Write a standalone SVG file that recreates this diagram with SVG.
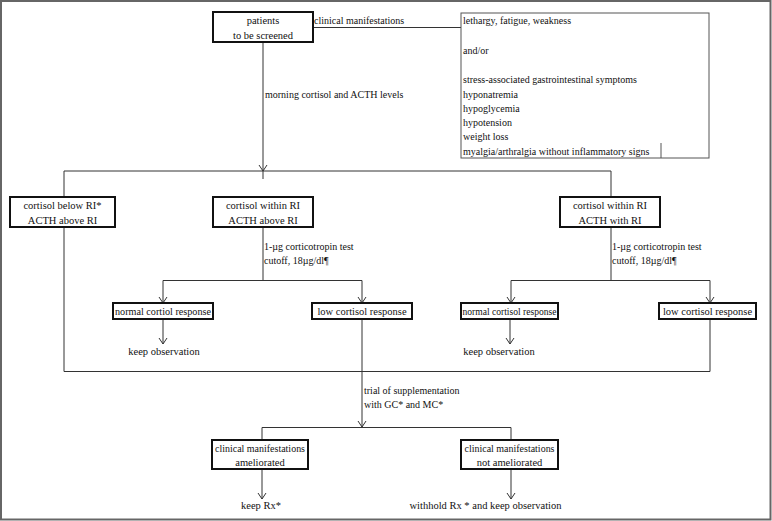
<svg xmlns="http://www.w3.org/2000/svg" width="772" height="521" viewBox="0 0 772 521">
<style>
text{font-family:"Liberation Serif","Times New Roman",serif;fill:#111}
.n{font-size:10.5px;text-anchor:middle}
.l{font-size:10px}
.box{fill:#fff;stroke:#111;stroke-width:2}
.c{fill:none;stroke:#333;stroke-width:1}
</style>
<defs>
<marker id="ah" markerUnits="userSpaceOnUse" markerWidth="10" markerHeight="10" refX="6" refY="4" orient="auto" overflow="visible">
<path d="M0,0 L6,4 L0,8" fill="none" stroke="#333" stroke-width="1"/>
</marker>
</defs>
<rect x="1" y="1" width="769.5" height="518.5" fill="#fff" stroke="#666" stroke-width="2"/>
<g id="connectors">
<path class="c" d="M313,27.5 H461"/>
<path class="c" d="M263,42 V171" marker-end="url(#ah)"/>
<path class="c" d="M263,171 V179"/>
<path class="c" d="M64,171 H611"/>
<path class="c" d="M64,171 V197"/>
<path class="c" d="M611,171 V196"/>
<path class="c" d="M64,228 V371.5 H710 V319"/>
<path class="c" d="M263,228 V280.5"/>
<path class="c" d="M163,280.5 H362"/>
<path class="c" d="M163,280.5 V303" marker-end="url(#ah)"/>
<path class="c" d="M362,280.5 V303" marker-end="url(#ah)"/>
<path class="c" d="M611,228 V280.5"/>
<path class="c" d="M511,280.5 H710"/>
<path class="c" d="M511,280.5 V303" marker-end="url(#ah)"/>
<path class="c" d="M710,280.5 V303" marker-end="url(#ah)"/>
<path class="c" d="M163,319 V344" marker-end="url(#ah)"/>
<path class="c" d="M510,319 V344" marker-end="url(#ah)"/>
<path class="c" d="M362,319 V427" marker-end="url(#ah)"/>
<path class="c" d="M262,440 V427.5 H511 V440"/>
<path class="c" d="M262,469 V499" marker-end="url(#ah)"/>
<path class="c" d="M511,469 V499" marker-end="url(#ah)"/>
</g>
<g id="labels">
<text class="l" x="314" y="24">clinical manifestations</text>
<text class="l" x="265" y="98">morning cortisol and ACTH levels</text>
<text class="l" x="264" y="250">1-µg corticotropin test</text>
<text class="l" x="264" y="264">cutoff, 18µg/dl¶</text>
<text class="l" x="612" y="250">1-µg corticotropin test</text>
<text class="l" x="612" y="264">cutoff, 18µg/dl¶</text>
<text class="l" x="364" y="394">trial of supplementation</text>
<text class="l" x="364" y="408">with GC* and MC*</text>
</g>
<g id="patients">
<rect class="box" x="213" y="12" width="100" height="30"/>
<text class="n" x="263" y="24">patients</text>
<text class="n" x="263" y="38.5">to be screened</text>
</g>
<g id="symptoms">
<rect x="461" y="13" width="248" height="145" fill="#fff" stroke="#555" stroke-width="1"/>
<path d="M661,143 V158" stroke="#555" stroke-width="1"/>
<text class="l" x="463" y="24">lethargy, fatigue, weakness</text>
<text class="l" x="463" y="53.5">and/or</text>
<text class="l" x="463" y="83">stress-associated gastrointestinal symptoms</text>
<text class="l" x="463" y="97.5">hyponatremia</text>
<text class="l" x="463" y="111.5">hypoglycemia</text>
<text class="l" x="463" y="126">hypotension</text>
<text class="l" x="463" y="140">weight loss</text>
<text class="l" x="463" y="154.5">myalgia/arthralgia without inflammatory signs</text>
</g>
<g id="n-below">
<rect class="box" x="10" y="197" width="105" height="30"/>
<text class="n" x="62.5" y="208.5">cortisol below RI*</text>
<text class="n" x="62.5" y="224">ACTH above RI</text>
</g>
<g id="n-within-above">
<rect class="box" x="213" y="197" width="100" height="30"/>
<text class="n" x="263" y="208.5">cortisol within RI</text>
<text class="n" x="263" y="224">ACTH above RI</text>
</g>
<g id="n-within-with">
<rect class="box" x="560" y="197" width="100" height="30"/>
<text class="n" x="610" y="208.5">cortisol within RI</text>
<text class="n" x="610" y="224">ACTH with RI</text>
</g>
<g id="normal-left">
<rect class="box" x="113" y="303" width="100" height="16"/>
<text class="n" x="163" y="315" textLength="96" lengthAdjust="spacingAndGlyphs">normal cortiol response</text>
</g>
<g id="low-left">
<rect class="box" x="312" y="303" width="100" height="16"/>
<text class="n" x="362" y="315">low cortisol response</text>
</g>
<g id="normal-right">
<rect class="box" x="461" y="303" width="97" height="16"/>
<text class="n" x="509.5" y="315" textLength="94" lengthAdjust="spacingAndGlyphs">normal cortisol response</text>
</g>
<g id="low-right">
<rect class="box" x="659" y="303" width="97" height="16"/>
<text class="n" x="707.5" y="315">low cortisol response</text>
</g>
<g id="obs-left">
<text class="n" x="164" y="355">keep observation</text>
</g>
<g id="obs-right">
<text class="n" x="499" y="355">keep observation</text>
</g>
<g id="ameliorated">
<rect class="box" x="212" y="440" width="96" height="29"/>
<text class="n" x="260" y="451.5" textLength="90" lengthAdjust="spacingAndGlyphs">clinical manifestations</text>
<text class="n" x="260" y="465.5">ameliorated</text>
</g>
<g id="not-ameliorated">
<rect class="box" x="461" y="440" width="97" height="29"/>
<text class="n" x="509.5" y="451.5" textLength="90" lengthAdjust="spacingAndGlyphs">clinical manifestations</text>
<text class="n" x="509.5" y="465.5">not ameliorated</text>
</g>
<g id="keep-rx">
<text class="n" x="261" y="509">keep Rx*</text>
</g>
<g id="withhold">
<text class="n" x="485.5" y="509">withhold Rx * and keep observation</text>
</g>
</svg>
